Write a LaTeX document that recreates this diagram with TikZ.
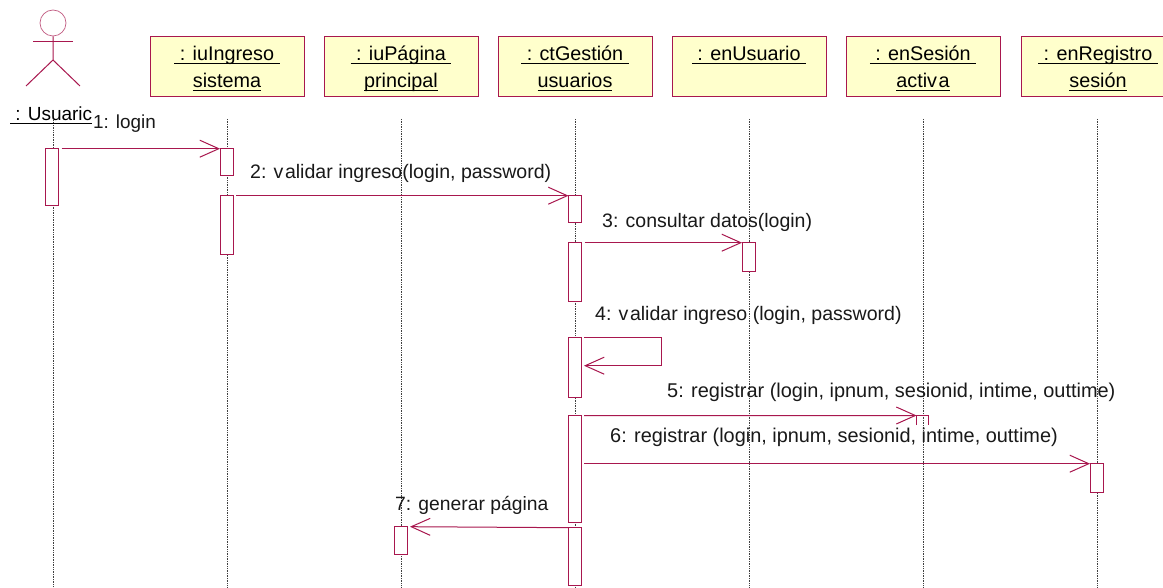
\documentclass[tikz,border=0pt]{standalone}
\usepackage{fontspec}
\setmainfont{Liberation Sans}
\usetikzlibrary{arrows.meta,calc}
\definecolor{umlline}{HTML}{A8174E}
\definecolor{umlfill}{HTML}{FFFFCC}
\newcommand\ulin[1]{\setbox0\hbox{#1}\rlap{\rule[-3.5pt]{\wd0}{1pt}}\box0}
\newcommand\tallstrut{\rule{0pt}{18.3pt}}
\tikzset{
  objbox/.style={rectangle,draw=umlline,fill=umlfill,line width=1pt,minimum width=154pt,minimum height=60pt,inner sep=0pt,align=center,font=\fontsize{19.8}{27}\selectfont},
  act/.style={rectangle,draw=umlline,fill=white,line width=1pt,minimum width=13pt,inner sep=0pt,outer sep=0pt,anchor=north,yshift=-0.7pt},
  lifeline/.style={draw=black!75,line width=0.7pt,densely dotted},
  msg/.style={draw=umlline,line width=1pt,-{Straight Barb[length=19pt,width=17pt,line width=1pt]}},
  lbl/.style={anchor=west,inner sep=0pt,font=\fontsize{#1}{22}\selectfont,text=black!90},
  limb/.style={draw=umlline,line width=1pt},
}
\begin{document}
\begin{tikzpicture}[x=1pt,y=-1pt]
\clip (0,0) rectangle (1163,588);
\fill[white] (0,0) rectangle (1163,588);
% actor
\node[circle,draw=umlline!70,line width=0.7pt,minimum size=26pt,inner sep=0pt] (head) at (53,23) {};
\coordinate (neck) at (53,36);
\coordinate (hip) at (53,60);
\coordinate (armL) at (33,42);
\coordinate (armR) at (73,42);
\coordinate (legL) at (26,86);
\coordinate (legR) at (80,86);
\draw[limb] (head.south) -- (hip) -- (legL);
\draw[limb] (hip) -- (legR);
\draw[limb] (armL) -- (armR);
% lifelines
\foreach \n/\x/\t in {0/53/120,1/227/119,2/401/119,3/575.5/119,4/749/119,5/923.5/119,6/1097/119}{
  \coordinate (t\n) at (\x,\t);
  \coordinate (b\n) at (\x,588);
  \path[lifeline] (t\n) -- (b\n);
}
\node[inner sep=0pt,anchor=west,font=\fontsize{19}{22}\selectfont] (actorname) at (10,115) {\ulin{\ : Usuaric}};
% objects
\node[objbox] (o1) at (227,67) {\tallstrut\ulin{\ : iuIngreso\ }\\\ulin{sistema}};
\node[objbox] (o2) at (401,67) {\tallstrut\ulin{\ : iuPágina\ }\\\ulin{principal}};
\node[objbox] (o3) at (575,67) {\tallstrut\ulin{\ : ctGestión\ }\\\ulin{usuarios}};
\node[objbox] (o4) at (749,67) {\tallstrut\ulin{\ : enUsuario\ }\\\rule[-3.5pt]{0pt}{1pt}};
\node[objbox] (o5) at (923,67) {\tallstrut\ulin{\ : enSesión\ }\\\ulin{activ\kern1.5pt a}};
\node[objbox] (o6) at (1098,67) {\tallstrut\ulin{\ : enRegistro\ }\\\ulin{sesión}};
% activations
\node[act,minimum height=57pt] (a0) at (52,148) {};
\node[act,minimum height=27pt] (a1) at (226.5,148) {};
\node[act,minimum height=59pt] (a2) at (226.5,195) {};
\node[act,minimum height=27pt] (c1) at (575,195) {};
\node[act,minimum height=59pt] (c2) at (575,242) {};
\node[act,minimum height=60pt] (c3) at (575,337) {};
\node[act,minimum height=107pt] (c4) at (575,415) {};
\node[act,minimum height=58pt] (c5) at (575,527) {};
\node[act,minimum height=29pt] (d1) at (748.5,242) {};
\node[act,minimum height=29pt] (r1) at (1096.5,463) {};
\node[act,minimum height=28pt] (p1) at (400.5,526) {};
% clipped activation on enSesión
\coordinate (e1) at (916.5,415.5);
\coordinate (e2) at (928.5,415.5);
\coordinate (e1b) at (916.5,425);
\coordinate (e2b) at (928.5,425);
\draw[limb] (e1b) -- (e1) -- (e2) -- (e2b);
% messages
\draw[msg] ([xshift=3pt]a0.north east) -- (a1.north west);
\draw[msg] ([xshift=3pt]a2.north east) -- (c1.north west);
\draw[msg] ([xshift=3pt]c2.north east) -- (d1.north west);
\coordinate (s1) at ($(c3.north east)+(2.5,0)$);
\coordinate (s2) at ($(c3.north east)+(79.5,0)$);
\coordinate (s3) at ($(c3.north east)+(79.5,28)$);
\coordinate (s4) at ($(c3.north east)+(2.5,28)$);
\draw[msg] (s1) -- (s2) -- (s3) -- (s4);
\draw[msg] ([xshift=2.5pt]c4.north east) -- (e1);
\draw[msg] ([xshift=2.5pt]c4.east |- r1.north) -- (r1.north west);
\draw[msg] (c5.north west) -- ([xshift=3pt]p1.north east);
% labels
\node[lbl=18.9] (m1) at (93,124) {1: login};
\node[lbl=19.55] (m2) at (250,173) {2: v\kern1.5pt alidar ingreso(login, password)};
\node[lbl=19.5] (m3) at (602,222) {3: consultar datos(login)};
\node[lbl=19.55] (m4) at (595,315) {4: v\kern1.5pt alidar ingreso (login, password)};
\node[lbl=19.93] (m5) at (667,392) {5: registrar (login, ipnum, sesionid, intime, outtime)};
\node[lbl=19.9] (m6) at (610,437) {6: registrar (login, ipnum, sesionid, intime, outtime)};
\node[lbl=19.3] (m7) at (395,505) {7: generar página};
\end{tikzpicture}
\end{document}
